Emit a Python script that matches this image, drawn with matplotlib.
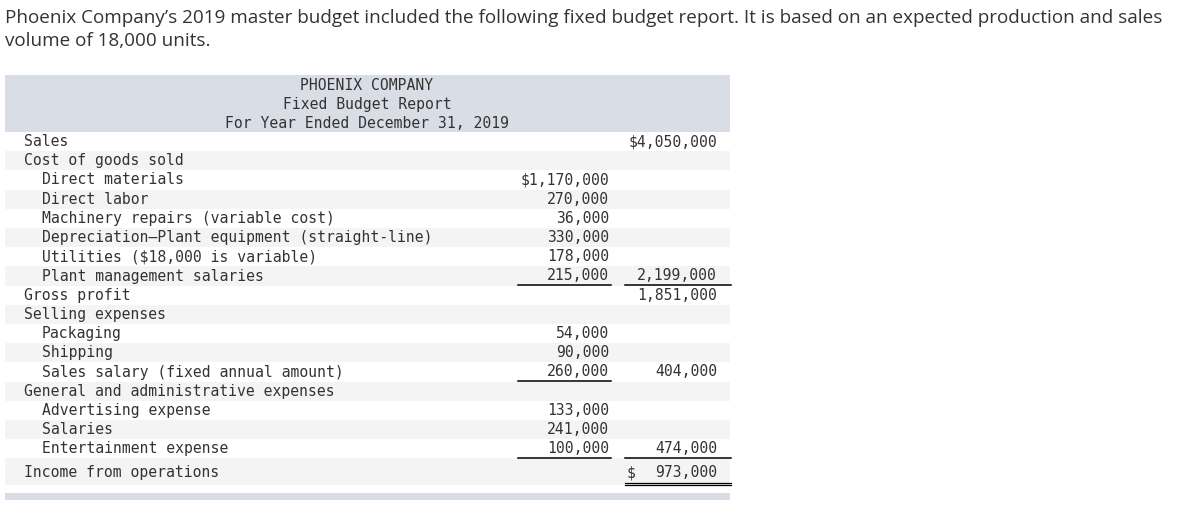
import numpy as np
import matplotlib
matplotlib.use('Agg')
import matplotlib.pyplot as plt

# report content
intro = ["Phoenix Company\u2019s 2019 master budget included the following fixed budget report. It is based on an expected production and sales",
         "volume of 18,000 units."]
header = ["PHOENIX COMPANY", "Fixed Budget Report", "For Year Ended December 31, 2019"]

labels = ["Sales", "Cost of goods sold", "Direct materials", "Direct labor",
          "Machinery repairs (variable cost)",
          "Depreciation\u2014Plant equipment (straight-line)",
          "Utilities ($18,000 is variable)", "Plant management salaries",
          "Gross profit", "Selling expenses", "Packaging", "Shipping",
          "Sales salary (fixed annual amount)",
          "General and administrative expenses", "Advertising expense",
          "Salaries", "Entertainment expense", "Income from operations"]
indent = [0, 0, 1, 1, 1, 1, 1, 1, 0, 0, 1, 1, 1, 0, 1, 1, 1, 0]
col1 = [None, None, 1170000, 270000, 36000, 330000, 178000, 215000, None,
        None, 54000, 90000, 260000, None, 133000, 241000, 100000, None]
col2 = [4050000, None, None, None, None, None, None, 2199000, 1851000,
        None, None, None, 404000, None, None, None, 474000, 973000]
dollar1 = [2]          # "$" attached in column 1
dollar2 = [0]          # "$" attached in column 2
dollar2_sep = [17]     # "$" set apart in column 2
under1 = [7, 12, 16]
under2 = [7, 16]
double2 = [17]

W, H = 1203, 525
fig = plt.figure(figsize=(W / 100, H / 100), dpi=100)
ax = fig.add_axes([0, 0, 1, 1])
ax.set_xlim(0, W)
ax.set_ylim(H, 0)
ax.axis('off')

txt = '#333333'
mono = 'DejaVu Sans Mono'
fs = 10.6
hdr_bg = '#d9dde6'
alt_bg = '#f4f4f4'

for i, line in enumerate(intro):
    ax.text(5, 18 + 23 * i, line, fontsize=13.6, family='Open Sans',
            color=txt, va='center', ha='left')

# header block
ax.add_patch(plt.Rectangle((5, 75), 725, 57, color=hdr_bg, lw=0))
for i, line in enumerate(header):
    ax.text(367, 85 + 19 * i, line, fontsize=fs, family=mono, color=txt,
            va='center', ha='center')

top = 132
pitch = 19.2
x_lab = [24, 42]
x_c1 = 609
x_c2 = 717

def fmt(v):
    return f"{v:,}"

for i, lab in enumerate(labels):
    y0 = top + pitch * i
    h = pitch if i < len(labels) - 1 else 26.5
    yc = y0 + pitch / 2
    if i == len(labels) - 1:
        yc = y0 + 14.5
    if i % 2 == 1:
        ax.add_patch(plt.Rectangle((5, y0), 725, h, color=alt_bg, lw=0))
    ax.text(x_lab[indent[i]], yc, lab, fontsize=fs, family=mono, color=txt,
            va='center', ha='left')
    if col1[i] is not None:
        s = ('$' if i in dollar1 else '') + fmt(col1[i])
        ax.text(x_c1, yc, s, fontsize=fs, family=mono, color=txt,
                va='center', ha='right')
    if col2[i] is not None:
        s = ('$' if i in dollar2 else '') + fmt(col2[i])
        ax.text(x_c2, yc, s, fontsize=fs, family=mono, color=txt,
                va='center', ha='right')
        if i in dollar2_sep:
            ax.text(627, yc, '$', fontsize=fs, family=mono, color=txt,
                    va='center', ha='left')
    yb = y0 + pitch - 0.5
    if i in under1:
        ax.plot([518, 611], [yb, yb], color='black', lw=1.1)
    if i in under2:
        ax.plot([625, 731], [yb, yb], color='black', lw=1.1)
    if i in double2:
        ax.plot([625, 731], [y0 + 24.6, y0 + 24.6], color='black', lw=0.9)
        ax.plot([625, 731], [y0 + 26.7, y0 + 26.7], color='black', lw=0.9)

# bottom bar
ax.add_patch(plt.Rectangle((5, 493), 725, 7, color=hdr_bg, lw=0))

fig.savefig('out.png', dpi=100)
